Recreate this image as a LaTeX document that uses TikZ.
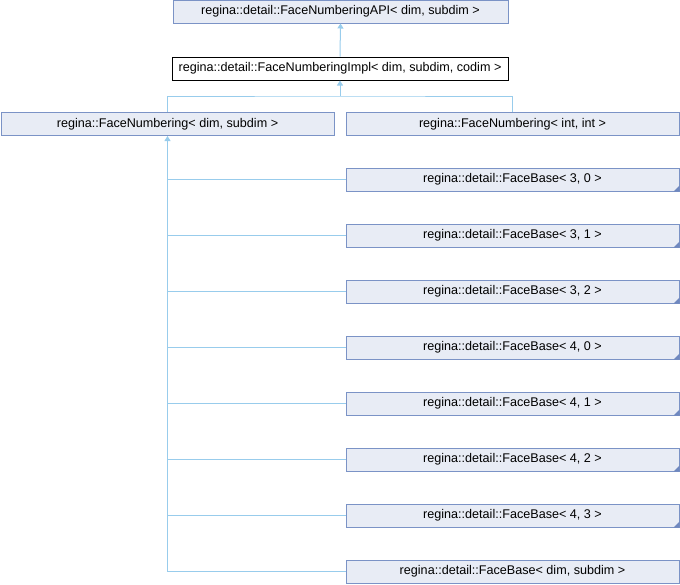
\documentclass[tikz,border=0pt]{standalone}
\usepackage{fontspec}
\setmainfont{Liberation Sans}
\usetikzlibrary{arrows.meta}
\definecolor{bf}{HTML}{E8ECF5}
\definecolor{bd}{HTML}{7B93C6}
\definecolor{ed}{HTML}{98CCEC}
\definecolor{cn}{HTML}{6F88BF}

\begin{document}
\begin{tikzpicture}[x=1pt, y=-1pt,
  cls/.style={draw=bd, fill=bf, line width=1pt, minimum height=23pt,
    inner sep=0pt, font=\fontsize{12.6}{14}\selectfont},
  cur/.style={cls, draw=black, fill=white},
  inh/.style={draw=ed, line width=1pt, {Triangle[width=6pt,length=5pt]}-},
  lnk/.style={draw=ed, line width=1pt}]

  \useasboundingbox (0,0) rectangle (680,584);

  \node[cls, minimum width=335pt] (api) at (340.5,11.5) {regina::detail::FaceNumberingAPI< dim, subdim >};
  \node[cur, minimum width=336pt] (impl) at (340,68.5) {regina::detail::FaceNumberingImpl< dim, subdim, codim >};
  \node[cls, minimum width=333pt] (fn) at (167.5,124) {regina::FaceNumbering< dim, subdim >};
  \node[cls, minimum width=333pt] (fnint) at (512.5,124) {regina::FaceNumbering< int, int >};

  \foreach \d/\s [count=\i from 0] in {3/0,3/1,3/2,4/0,4/1,4/2,4/3} {
    \node[cls, minimum width=333pt] (fb\i) at (512.5,179.5+56*\i) {regina::detail::FaceBase< \d, \s{} >};
    \fill[cn] (fb\i.south east) -- ++(-6,0) -- ++(6,-6) -- cycle;
  }
  \node[cls, minimum width=333pt] (fbd) at (512.5,571.5) {regina::detail::FaceBase< dim, subdim >};

  \coordinate (join) at (340,96);

  \draw[inh] (api.south) -- (impl.north);
  \draw[inh] (impl.south) -- (join);
  \draw[lnk] (fn.north) |- (join) -| (fnint.north);

  \draw[inh] (fn.south) -- (fn.south |- fbd.west) -- (fbd.west);
  \foreach \i in {0,...,6}
    \draw[lnk] (fn.south |- fb\i.west) -- (fb\i.west);

\end{tikzpicture}
\end{document}
